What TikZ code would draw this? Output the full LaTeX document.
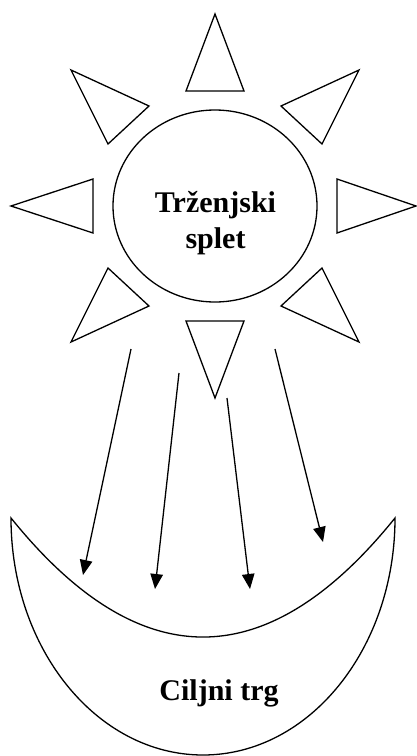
\documentclass[tikz,border=0pt]{standalone}
\usepackage{fontspec}
\setmainfont{Liberation Serif}
\usetikzlibrary{arrows.meta,shapes.geometric}
\begin{document}
\begin{tikzpicture}[x=1pt,y=-1pt,
  outl/.style={draw=black,line width=1.3pt},
  ray/.style={outl,fill=white},
  arr/.style={draw=black,line width=1.3pt,-{Triangle[length=15pt,width=12.5pt]}},
  lbl/.style={font=\fontsize{30}{36}\selectfont\bfseries,align=center,inner sep=0pt}]
\useasboundingbox (0,0) rectangle (417,756);
% sun
\node[outl,ellipse,minimum width=204pt,minimum height=192pt,inner sep=0pt] (sun) at (215,206) {};
\node[lbl,anchor=base] (t1) at (215.5,212) {Trženjski};
\node[lbl,anchor=base] (t2) at (215.5,248) {splet};
% rays
\draw[ray] (215,14) -- (244,91) -- (186,91) -- cycle;
\draw[ray] (71,70) -- (149,106) -- (108,144) -- cycle;
\draw[ray] (359,70) -- (281,106) -- (322,144) -- cycle;
\draw[ray] (11,206) -- (93,179) -- (93,233) -- cycle;
\draw[ray] (416,206) -- (337,179) -- (337,233) -- cycle;
\draw[ray] (71,342) -- (149,306) -- (108,268) -- cycle;
\draw[ray] (359,342) -- (281,306) -- (322,268) -- cycle;
\draw[ray] (186,321) -- (244,321) -- (215,398) -- cycle;
% target market (crescent)
\draw[outl] (11,518) arc[start angle=180,end angle=0,x radius=192,y radius=237]
  .. controls (267,676.7) and (139,676.7) .. (11,518) -- cycle;
\node[lbl,anchor=base] (t3) at (219,700) {Ciljni trg};
% arrows
\coordinate (a1s) at (131,349); \coordinate (a1e) at (83,575);
\coordinate (a2s) at (179,373); \coordinate (a2e) at (155,589);
\coordinate (a3s) at (227,398); \coordinate (a3e) at (250,589);
\coordinate (a4s) at (275,349); \coordinate (a4e) at (323,542);
\draw[arr] (a1s) -- (a1e);
\draw[arr] (a2s) -- (a2e);
\draw[arr] (a3s) -- (a3e);
\draw[arr] (a4s) -- (a4e);
\end{tikzpicture}
\end{document}
